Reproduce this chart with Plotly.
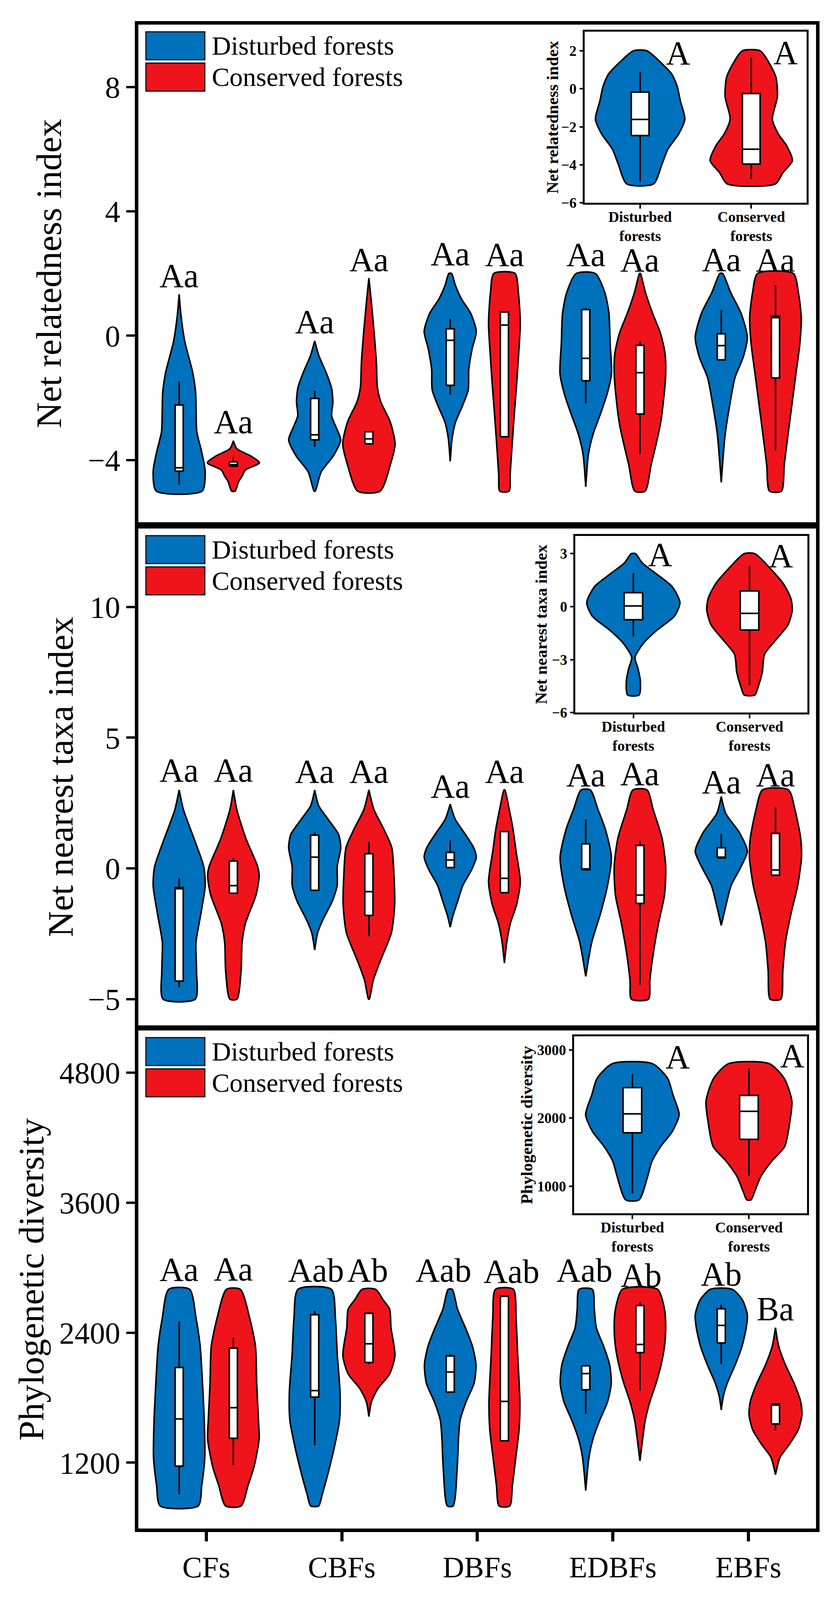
import plotly.graph_objects as go

W, H = 2134, 4255
FONT = "Liberation Serif"
BLUE = "#0071BC"
RED = "#EF141C"

CATEGORIES = ["CFs", "CBFs", "DBFs", "EDBFs", "EBFs"]
GROUPS = ["Disturbed forests", "Conserved forests"]
INSET_CATS = ["Disturbed<br>forests", "Conserved<br>forests"]

# ---------------- Net relatedness index ----------------
# violin outlines: (value, half-width) from top to bottom, one list per category
nri_dist_profiles = [
    [(1.33, 0), (0.63, 0.014), (-0.2, 0.042), (-1.17, 0.099), (-1.81, 0.121), (-2.45, 0.125), (-3.09, 0.130), (-3.74, 0.166), (-4.38, 0.192), (-5, 0.169)],
    [(-0.17, 0), (-0.66, 0.032), (-1.17, 0.083), (-1.68, 0.124), (-2.13, 0.134), (-2.58, 0.125), (-2.97, 0.160), (-3.35, 0.192), (-3.87, 0.137), (-4.38, 0.048), (-5, 0.004)],
    [(2.0, 0.01), (1.63, 0.037), (1.18, 0.083), (0.72, 0.151), (0.14, 0.192), (-0.44, 0.161), (-1.09, 0.137), (-1.74, 0.133), (-2.26, 0.090), (-2.78, 0.039), (-3.30, 0.014), (-4.04, 0)],
    [(2.0, 0.070), (1.38, 0.141), (0.72, 0.171), (-0.25, 0.180), (-1.22, 0.190), (-1.87, 0.158), (-2.52, 0.108), (-3.17, 0.054), (-3.81, 0.02), (-4.86, 0)],
    [(2.0, 0.01), (1.38, 0.070), (0.72, 0.146), (-0.05, 0.192), (-0.70, 0.161), (-1.35, 0.101), (-2.19, 0.064), (-3.17, 0.029), (-4.72, 0)],
]
nri_cons_profiles = [
    [(-3.38, 0), (-3.64, 0.026), (-3.87, 0.128), (-4.09, 0.192), (-4.32, 0.089), (-4.51, 0.065), (-4.70, 0.038), (-5, 0.013)],
    [(1.85, 0), (1.08, 0.018), (0.12, 0.038), (-0.85, 0.055), (-1.68, 0.063), (-2.13, 0.088), (-2.77, 0.157), (-3.48, 0.193), (-4.12, 0.160), (-5, 0.083)],
    [(2.0, 0.078), (1.38, 0.103), (0.40, 0.117), (-0.58, 0.105), (-1.55, 0.090), (-2.52, 0.073), (-3.49, 0.057), (-4.47, 0.042), (-5, 0.034)],
    [(2.0, 0.003), (1.38, 0.041), (0.72, 0.093), (0.08, 0.151), (-0.57, 0.185), (-1.22, 0.190), (-2.19, 0.171), (-2.84, 0.151), (-3.49, 0.119), (-4.14, 0.083), (-5, 0.038)],
    [(2.0, 0.132), (1.38, 0.169), (0.60, 0.190), (-0.25, 0.180), (-1.22, 0.151), (-2.19, 0.122), (-3.17, 0.093), (-4.14, 0.065), (-5, 0.044)],
]
# box statistics: (lower whisker, q1, median, q3, upper whisker)
nri_dist_box = [(-4.80, -4.36, -4.25, -2.23, -1.47), (-3.57, -3.35, -3.19, -2.02, -1.77), (-1.90, -1.60, -0.15, 0.22, 0.54), (-2.18, -1.45, -0.73, 0.84, 0.89), (-0.78, -0.78, -0.32, 0.06, 0.83)]
nri_cons_box = [(-4.20, -4.20, -4.15, -4.06, -3.90), (-3.48, -3.48, -3.32, -3.09, -3.09), (-3.25, -3.25, 0.34, 0.76, 0.76), (-3.81, -2.52, -1.19, -0.31, -0.19), (-3.69, -1.36, 0.58, 0.63, 1.63)]
nri_dist_letters = ["Aa", "Aa", "Aa", "Aa", "Aa"]
nri_cons_letters = ["Aa", "Aa", "Aa", "Aa", "Aa"]
nri_dist_letter_x = [0.8, 1.8, 2.8, 3.8, 4.8]
nri_cons_letter_x = [1.2, 2.2, 3.2, 4.2, 5.2]
nri_dist_letter_y = [1.93, 0.44, 2.63, 2.60, 2.44]
nri_cons_letter_y = [-2.77, 2.44, 2.61, 2.43, 2.43]

# ---------------- Net nearest taxa index ----------------
nti_dist_profiles = [
    [(3.0, 0), (2.24, 0.032), (1.15, 0.109), (0.07, 0.181), (-0.65, 0.192), (-1.74, 0.160), (-2.83, 0.124), (-3.91, 0.128), (-5, 0.119)],
    [(3.0, 0), (2.39, 0.030), (1.88, 0.099), (1.30, 0.176), (0.79, 0.192), (0.07, 0.166), (-0.65, 0.166), (-1.24, 0.131), (-1.96, 0.061), (-2.46, 0.022), (-3.12, 0)],
    [(2.46, 0), (1.88, 0.037), (1.30, 0.112), (0.79, 0.173), (0.43, 0.192), (-0.07, 0.156), (-0.65, 0.093), (-1.24, 0.056), (-1.81, 0.02), (-2.25, 0)],
    [(3.0, 0.034), (2.24, 0.091), (1.51, 0.144), (0.43, 0.189), (-0.65, 0.161), (-1.74, 0.108), (-2.83, 0.044), (-4.13, 0)],
    [(2.75, 0), (2.09, 0.034), (1.37, 0.134), (0.65, 0.192), (0.07, 0.146), (-0.65, 0.073), (-1.38, 0.036), (-2.18, 0)],
]
nti_cons_profiles = [
    [(3.0, 0), (2.24, 0.026), (1.15, 0.092), (0.07, 0.179), (-0.29, 0.190), (-1.02, 0.167), (-2.10, 0.089), (-2.83, 0.064), (-3.91, 0.057), (-5, 0.026)],
    [(3.0, 0), (2.24, 0.038), (1.51, 0.109), (0.79, 0.169), (-0.29, 0.185), (-1.38, 0.190), (-2.46, 0.166), (-3.55, 0.083), (-4.28, 0.032), (-5, 0.003)],
    [(3.0, 0.003), (2.24, 0.036), (1.51, 0.063), (0.65, 0.086), (-0.51, 0.117), (-1.38, 0.090), (-2.10, 0.044), (-2.83, 0.017), (-3.62, 0)],
    [(3.0, 0.052), (2.24, 0.098), (1.15, 0.163), (0.07, 0.190), (-1.02, 0.181), (-2.10, 0.137), (-3.19, 0.100), (-4.28, 0.073), (-5, 0.063)],
    [(3.0, 0.096), (2.24, 0.144), (1.15, 0.186), (0.43, 0.192), (-0.65, 0.164), (-1.74, 0.114), (-2.83, 0.073), (-3.91, 0.054), (-5, 0.039)],
]
nti_dist_box = [(-4.55, -4.31, -0.78, -0.73, -0.37), (-0.87, -0.84, 0.43, 1.27, 1.37), (0.03, 0.03, 0.32, 0.61, 1.07), (-0.05, -0.05, -0.02, 0.94, 1.88), (0.40, 0.40, 0.43, 0.79, 1.31)]
nti_cons_box = [(-0.95, -0.95, -0.66, 0.28, 0.40), (-2.60, -1.80, -0.89, 0.56, 1.01), (-0.93, -0.93, -0.38, 1.41, 1.41), (-4.45, -1.34, -1.02, 0.88, 1.05), (-0.26, -0.26, -0.06, 1.34, 2.33)]
nti_dist_letters = ["Aa", "Aa", "Aa", "Aa", "Aa"]
nti_cons_letters = ["Aa", "Aa", "Aa", "Aa", "Aa"]
nti_dist_letter_x = [0.8, 1.8, 2.8, 3.8, 4.8]
nti_cons_letter_x = [1.2, 2.2, 3.2, 4.2, 5.2]
nti_dist_letter_y = [3.75, 3.71, 3.14, 3.57, 3.31]
nti_cons_letter_y = [3.75, 3.71, 3.71, 3.61, 3.57]

# ---------------- Phylogenetic diversity ----------------
pd_dist_profiles = [
    [(2800, 0.077), (2530, 0.125), (2274, 0.155), (1933, 0.172), (1591, 0.185), (1250, 0.189), (993, 0.167), (800, 0.140)],
    [(2800, 0.123), (2530, 0.153), (2189, 0.167), (1848, 0.187), (1591, 0.183), (1336, 0.144), (1080, 0.094), (908, 0.056), (800, 0.029)],
    [(2800, 0.015), (2616, 0.054), (2445, 0.112), (2274, 0.164), (2104, 0.190), (1933, 0.176), (1762, 0.117), (1591, 0.073), (1421, 0.061), (1164, 0.052), (800, 0.021)],
    [(2800, 0.049), (2616, 0.063), (2445, 0.078), (2274, 0.132), (2104, 0.176), (1933, 0.188), (1762, 0.161), (1591, 0.103), (1421, 0.054), (1250, 0.024), (942, 0)],
    [(2800, 0.081), (2702, 0.156), (2565, 0.192), (2445, 0.184), (2274, 0.153), (2104, 0.103), (1933, 0.044), (1813, 0.015), (1686, 0)],
]
pd_cons_profiles = [
    [(2800, 0.051), (2530, 0.121), (2274, 0.163), (1933, 0.172), (1591, 0.185), (1421, 0.190), (1164, 0.153), (993, 0.109), (800, 0.057)],
    [(2800, 0.050), (2702, 0.105), (2616, 0.153), (2445, 0.163), (2189, 0.192), (2019, 0.153), (1882, 0.066), (1762, 0.019), (1625, 0)],
    [(2800, 0.066), (2530, 0.086), (2189, 0.098), (1762, 0.114), (1506, 0.108), (1250, 0.084), (993, 0.059), (800, 0.039)],
    [(2800, 0.130), (2616, 0.181), (2445, 0.190), (2274, 0.181), (2104, 0.156), (1933, 0.119), (1762, 0.073), (1591, 0.039), (1421, 0.02), (1216, 0)],
    [(2445, 0), (2274, 0.024), (2104, 0.073), (1933, 0.137), (1762, 0.186), (1642, 0.195), (1506, 0.169), (1370, 0.103), (1250, 0.034), (1089, 0)],
]
pd_dist_box = [(908, 1168, 1603, 2078, 2505), (1360, 1805, 1865, 2565, 2603), (1851, 1851, 2036, 2185, 2203), (1652, 1873, 2022, 2094, 2100), (2112, 2305, 2467, 2620, 2660)]
pd_cons_box = [(1178, 1425, 1707, 2257, 2352), (2108, 2124, 2297, 2578, 2590), (1401, 1401, 1765, 2736, 2736), (1864, 2215, 2291, 2650, 2681), (1497, 1557, 1731, 1741, 1741)]
pd_dist_letters = ["Aa", "Aab", "Aab", "Aab", "Ab"]
pd_cons_letters = ["Aa", "Ab", "Aab", "Ab", "Ba"]
pd_dist_letter_x = [0.8, 1.81, 2.75, 3.79, 4.8]
pd_cons_letter_x = [1.2, 2.19, 3.25, 4.21, 5.2]
pd_dist_letter_y = [2984, 2974, 2974, 2974, 2940]
pd_cons_letter_y = [2985, 2977, 2964, 2930, 2618]

# ---------------- Insets (pooled) ----------------
nri_inset_profiles = [
    [(2.0, 0.061), (1.40, 0.183), (0.77, 0.285), (0.14, 0.333), (-0.64, 0.362), (-1.59, 0.402), (-2.37, 0.347), (-3.16, 0.251), (-3.94, 0.198), (-5, 0.121)],
    [(2.0, 0.080), (1.40, 0.157), (0.61, 0.222), (-0.41, 0.235), (-1.59, 0.190), (-2.37, 0.243), (-3.0, 0.319), (-3.78, 0.370), (-4.41, 0.285), (-5, 0.217)],
]
nri_inset_box = [(-4.88, -2.46, -1.61, -0.17, 0.89), (-4.75, -3.96, -3.18, -0.25, 1.63)]
nri_inset_letters = ["A", "A"]
nri_inset_letter_x = [1.34, 2.31]
nri_inset_letter_y = [1.87, 1.90]

nti_inset_profiles = [
    [(3.0, 0.018), (2.48, 0.076), (1.90, 0.189), (1.14, 0.333), (0.23, 0.401), (-0.53, 0.354), (-1.36, 0.198), (-2.03, 0.092), (-2.87, 0.014), (-3.53, 0.041), (-4.20, 0.060), (-5, 0.049)],
    [(3.0, 0.046), (2.15, 0.180), (1.31, 0.290), (0.48, 0.355), (-0.19, 0.368), (-1.03, 0.331), (-1.86, 0.230), (-2.70, 0.129), (-3.70, 0.110), (-4.54, 0.074), (-5, 0.046)],
]
nti_inset_box = [(-1.68, -0.74, 0.04, 0.79, 1.90), (-4.45, -1.32, -0.38, 0.89, 2.31)]
nti_inset_letters = ["A", "A"]
nti_inset_letter_x = [1.23, 2.27]
nti_inset_letter_y = [2.95, 2.88]

pd_inset_profiles = [
    [(2800, 0.171), (2586, 0.302), (2341, 0.348), (2051, 0.401), (1806, 0.343), (1584, 0.243), (1361, 0.167), (1138, 0.130), (800, 0.057)],
    [(2800, 0.174), (2586, 0.302), (2252, 0.368), (1918, 0.348), (1584, 0.307), (1361, 0.192), (1138, 0.101), (916, 0.048), (800, 0.018)],
]
pd_inset_box = [(893, 1784, 2062, 2448, 2648), (1156, 1688, 2100, 2334, 2730)]
pd_inset_letters = ["A", "A"]
pd_inset_letter_x = [1.39, 2.37]
pd_inset_letter_y = [2897, 2913]

# ---------------- axes settings ----------------
Y_TITLES = ["Net relatedness index", "Net nearest taxa index", "Phylogenetic diversity"]
Y_RANGES = [[-6, 10], [-6, 13], [590, 5190]]
Y_TICKS = [[-4, 0, 4, 8], [-5, 0, 5, 10], [1200, 2400, 3600, 4800]]
INSET_RANGES = [[-6, 3], [-6, 4], [600, 3200]]
INSET_TICKS = [[-6, -4, -2, 0, 2], [-6, -3, 0, 3], [1000, 2000, 3000]]

# ---------------- layout geometry (reference pixels) ----------------
MAIN_LEFT, MAIN_RIGHT = 349, 2096
MAIN_TB = [(58, 1393), (1410, 2743), (2757, 4094)]
INSET_BOX = [(1499, 2072, 77, 536), (1475, 2074, 1430, 1904), (1472, 2073, 2773, 3248)]
TITLE_X = [118, 148, 72]
INSET_TITLE_X = [1416, 1387, 1350]
DODGE = 0.2


def fx(p):
    return p / W


def fy(p):
    return 1 - p / H


fig = go.Figure()


def add_violin(profile, center, color, ax):
    vals = [p[0] for p in profile]
    ws = [p[1] for p in profile]
    xs = [center + w for w in ws] + [center - w for w in reversed(ws)]
    ys = vals + vals[::-1]
    xs.append(xs[0])
    ys.append(ys[0])
    fig.add_trace(go.Scatter(
        x=xs, y=ys, mode="lines", fill="toself", fillcolor=color,
        line=dict(color="black", width=4, shape="spline", smoothing=0.7),
        xaxis="x" + ax, yaxis="y" + ax, hoverinfo="skip", showlegend=False))


def add_boxes(stats, positions, bw, ax):
    rx, ry, wx, wy, mx, my = [], [], [], [], [], []
    for (lo, q1, med, q3, hi), p in zip(stats, positions):
        left, right = p - bw / 2, p + bw / 2
        rx += [left, right, right, left, left, None]
        ry += [q1, q1, q3, q3, q1, None]
        wx += [p, p, None, p, p, None]
        wy += [q3, hi, None, q1, lo, None]
        mx += [left, right, None]
        my += [med, med, None]
    fig.add_trace(go.Scatter(
        x=wx, y=wy, mode="lines", line=dict(color="black", width=4),
        xaxis="x" + ax, yaxis="y" + ax, hoverinfo="skip", showlegend=False))
    fig.add_trace(go.Scatter(
        x=rx, y=ry, mode="lines", fill="toself", fillcolor="white",
        line=dict(color="black", width=4),
        xaxis="x" + ax, yaxis="y" + ax, hoverinfo="skip", showlegend=False))
    fig.add_trace(go.Scatter(
        x=mx, y=my, mode="lines", line=dict(color="black", width=4),
        xaxis="x" + ax, yaxis="y" + ax, hoverinfo="skip", showlegend=False))


annotations = []
shapes = []

main_sets = [
    (nri_dist_profiles, nri_cons_profiles, nri_dist_box, nri_cons_box, nri_dist_letters, nri_cons_letters,
     nri_dist_letter_x, nri_cons_letter_x, nri_dist_letter_y, nri_cons_letter_y),
    (nti_dist_profiles, nti_cons_profiles, nti_dist_box, nti_cons_box, nti_dist_letters, nti_cons_letters,
     nti_dist_letter_x, nti_cons_letter_x, nti_dist_letter_y, nti_cons_letter_y),
    (pd_dist_profiles, pd_cons_profiles, pd_dist_box, pd_cons_box, pd_dist_letters, pd_cons_letters,
     pd_dist_letter_x, pd_cons_letter_x, pd_dist_letter_y, pd_cons_letter_y),
]
inset_sets = [
    (nri_inset_profiles, nri_inset_box, nri_inset_letters, nri_inset_letter_x, nri_inset_letter_y),
    (nti_inset_profiles, nti_inset_box, nti_inset_letters, nti_inset_letter_x, nti_inset_letter_y),
    (pd_inset_profiles, pd_inset_box, pd_inset_letters, pd_inset_letter_x, pd_inset_letter_y),
]

layout_axes = {}
for i in range(3):
    ax = str(i + 1)
    dprof, cprof, dbox, cbox, dlet, clet, dlx, clx, dly, cly = main_sets[i]
    cat_pos = list(range(1, len(CATEGORIES) + 1))
    dpos = [c - DODGE for c in cat_pos]
    cpos = [c + DODGE for c in cat_pos]
    for k in range(len(CATEGORIES)):
        add_violin(dprof[k], dpos[k], BLUE, ax)
        add_violin(cprof[k], cpos[k], RED, ax)
    add_boxes(dbox, dpos, 0.06, ax)
    add_boxes(cbox, cpos, 0.06, ax)
    for k in range(len(CATEGORIES)):
        for xv, txt, yv in ((dlx[k], dlet[k], dly[k]), (clx[k], clet[k], cly[k])):
            annotations.append(dict(x=xv, y=yv, xref="x" + ax, yref="y" + ax, text=txt,
                                    showarrow=False, xanchor="center", yanchor="middle",
                                    font=dict(family=FONT, size=86, color="black")))
    top, bottom = MAIN_TB[i]
    key = "" if i == 0 else ax
    layout_axes["xaxis" + key] = dict(
        domain=[fx(MAIN_LEFT), fx(MAIN_RIGHT)], range=[0.5, 5.5], anchor="y" + ax,
        showline=True, mirror=True, linecolor="black", linewidth=9,
        showgrid=False, zeroline=False,
        tickvals=cat_pos if i == 2 else [], ticktext=CATEGORIES if i == 2 else [],
        ticks="outside" if i == 2 else "", ticklen=24, tickwidth=8, tickcolor="black",
        tickfont=dict(family=FONT, size=76, color="black"))
    layout_axes["yaxis" + key] = dict(
        domain=[fy(bottom), fy(top)], range=Y_RANGES[i], anchor="x" + ax,
        showline=True, mirror=True, linecolor="black", linewidth=9,
        showgrid=False, zeroline=False, tickvals=Y_TICKS[i],
        ticks="outside", ticklen=22, tickwidth=6, tickcolor="black",
        tickfont=dict(family=FONT, size=78, color="black"))
    annotations.append(dict(x=fx(TITLE_X[i]), y=fy((top + bottom) / 2), xref="paper", yref="paper",
                            text=Y_TITLES[i], textangle=-90, showarrow=False,
                            xanchor="center", yanchor="middle",
                            font=dict(family=FONT, size=92, color="black")))
    # legend
    for g, (grp, col) in enumerate(zip(GROUPS, [BLUE, RED])):
        r_top = top + 19 + g * 84
        r_bot = r_top + 75
        shapes.append(dict(type="rect", xref="paper", yref="paper",
                           x0=fx(368), x1=fx(520), y0=fy(r_bot), y1=fy(r_top),
                           fillcolor=col, line=dict(color="#111111", width=3)))
        annotations.append(dict(x=fx(536), y=fy((r_top + r_bot) / 2), xref="paper", yref="paper",
                                text=grp, showarrow=False, xanchor="left", yanchor="middle",
                                font=dict(family=FONT, size=68, color="black")))

    # inset
    iax = str(i + 4)
    iprof, ibox, ilet, ilx, ily = inset_sets[i]
    ipos = [1, 2]
    add_violin(iprof[0], ipos[0], BLUE, iax)
    add_violin(iprof[1], ipos[1], RED, iax)
    add_boxes(ibox, ipos, 0.16, iax)
    for k in range(2):
        annotations.append(dict(x=ilx[k], y=ily[k], xref="x" + iax, yref="y" + iax, text=ilet[k],
                                showarrow=False, xanchor="center", yanchor="middle",
                                font=dict(family=FONT, size=86, color="black")))
    l, r, t, b = INSET_BOX[i]
    layout_axes["xaxis" + iax] = dict(
        domain=[fx(l), fx(r)], range=[0.5, 2.5], anchor="y" + iax,
        showline=True, mirror=True, linecolor="black", linewidth=5,
        showgrid=False, zeroline=False, tickvals=ipos, ticktext=INSET_CATS,
        ticks="outside", ticklen=10, tickwidth=4, tickcolor="black",
        ticklabelstandoff=-12,
        tickfont=dict(family=FONT, size=38, color="black", weight="bold"))
    layout_axes["yaxis" + iax] = dict(
        domain=[fy(b), fy(t)], range=INSET_RANGES[i], anchor="x" + iax,
        showline=True, mirror=True, linecolor="black", linewidth=5,
        showgrid=False, zeroline=False, tickvals=INSET_TICKS[i],
        ticks="outside", ticklen=8, tickwidth=4, tickcolor="black",
        tickfont=dict(family=FONT, size=37, color="black", weight="bold"))
    annotations.append(dict(x=fx(INSET_TITLE_X[i]), y=fy((t + b) / 2), xref="paper", yref="paper",
                            text=Y_TITLES[i], textangle=-90, showarrow=False,
                            xanchor="center", yanchor="middle",
                            font=dict(family=FONT, size=43, color="black", weight="bold")))

fig.update_layout(
    autosize=True,
    margin=dict(l=0, r=0, t=0, b=0),
    paper_bgcolor="white", plot_bgcolor="white",
    showlegend=False,
    annotations=annotations, shapes=shapes,
    **layout_axes)

fig.write_html("out.html", default_width="100%", default_height="calc(100vh - 16px)")
